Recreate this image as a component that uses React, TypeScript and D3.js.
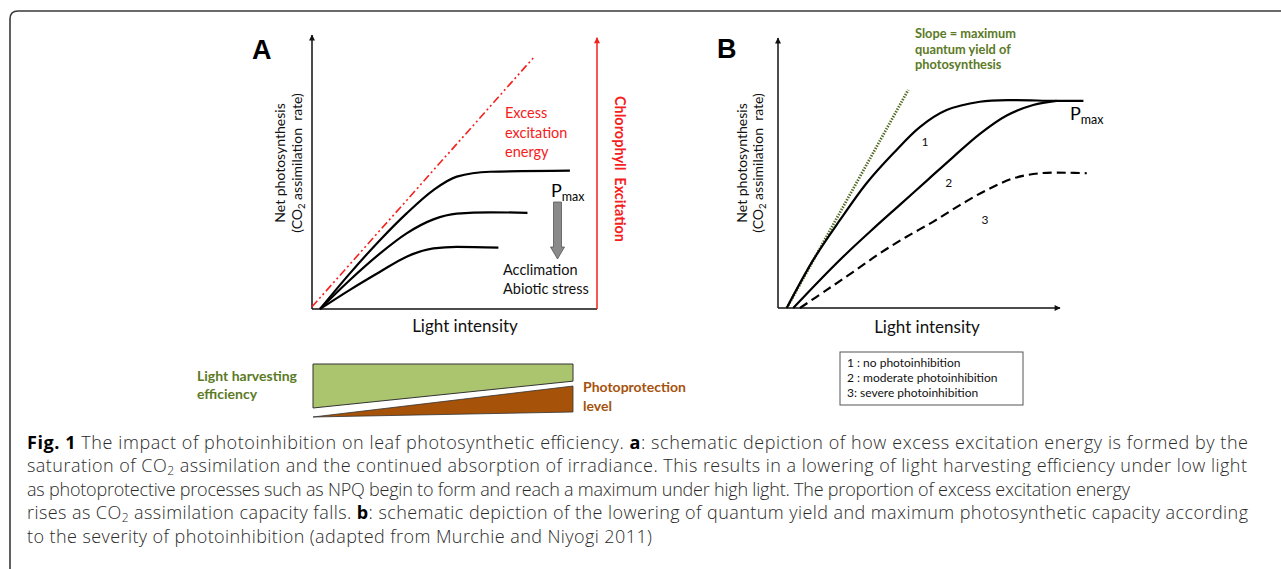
import React, { useEffect, useRef } from 'react';
import * as d3 from 'd3';

type Pt = [number, number];

// Panel A - schematic light response (light intensity, net photosynthesis), arbitrary units 0-100
const excessLineA: Pt[] = [[0, 0.8], [78.2, 92.3]];
const curveHighA: Pt[] = [[2.8, 0], [13.3, 13], [23.9, 25.2], [33.2, 34.9], [42.6, 43.4], [50.8, 48.3], [62.5, 50.1], [90.5, 50.5]];
const curveMidA: Pt[] = [[2.8, 0], [13.3, 10.6], [23.9, 20.3], [33.2, 27.6], [42.6, 32.7], [50.8, 34.8], [62.5, 35.3], [75.6, 35.1]];
const curveLowA: Pt[] = [[2.8, 0], [13.3, 7], [23.9, 13.6], [33.2, 19.1], [42.6, 22.1], [50.8, 22.7], [65.4, 22.4]];

// wedges below panel A (relative thickness at low / high light)
const harvestEfficiency: Pt[] = [[0, 100], [100, 39]];
const photoprotection: Pt[] = [[0, 0], [100, 59]];

// Panel B - photoinhibition severity
const slopeLineB: Pt[] = [[3.1, 0], [46.2, 80.8]];
const curveNoneB: Pt[] = [[3.1, 0], [12.5, 17.8], [22, 32.6], [31.4, 46.2], [40.9, 57.3], [50.4, 67.1], [59.8, 73.3], [71.6, 76.4], [83.4, 77], [97.6, 76.7], [108.3, 76.7]];
const curveModerateB: Pt[] = [[5.4, 0], [14.9, 10.4], [24.4, 20.3], [33.8, 29.4], [43.3, 38.3], [52.7, 47.1], [62.2, 56.0], [71.6, 64.5], [81.1, 71.3], [90.5, 75.2], [98.8, 76.7]];
const curveSevereB: Pt[] = [[7.8, 0], [17.3, 6.7], [26.7, 13.4], [36.2, 20.3], [45.6, 26.4], [55.1, 32.0], [64.5, 38.1], [74.0, 43.7], [83.4, 48.0], [92.9, 49.9], [102.4, 50.1], [109.5, 49.9]];
const curveLabelsB = [
  { label: '1', x: 52.1, y: 61.6 },
  { label: '2', x: 60.5, y: 46.3 },
  { label: '3', x: 73.4, y: 32.6 },
];
const legendItems = ['1 : no photoinhibition', '2 : moderate photoinhibition', '3: severe photoinhibition'];

const captionLines = [
  [{ t: 'Fig. 1', b: true }, { t: ' The impact of photoinhibition on leaf photosynthetic efficiency. ' }, { t: 'a', b: true }, { t: ': schematic depiction of how excess excitation energy is formed by the' }],
  [{ t: 'saturation of CO' }, { t: '2', sub: true }, { t: ' assimilation and the continued absorption of irradiance. This results in a lowering of light harvesting efficiency under low light' }],
  [{ t: 'as photoprotective processes such as NPQ begin to form and reach a maximum under high light. The proportion of excess excitation energy' }],
  [{ t: 'rises as CO' }, { t: '2', sub: true }, { t: ' assimilation capacity falls. ' }, { t: 'b', b: true }, { t: ': schematic depiction of the lowering of quantum yield and maximum photosynthetic capacity according' }],
  [{ t: 'to the severity of photoinhibition (adapted from Murchie and Niyogi 2011)' }],
];
const captionWidths = [1221, 1220, 1103, 1221, 625];

const FONT = 'Lato, "Open Sans", sans-serif';
const CAP_FONT = '"Open Sans", sans-serif';
const RED = '#f5201c';
const OLIVE = '#5b7a26';
const BROWN = '#a6520c';

export default function App() {
  const ref = useRef<SVGSVGElement>(null);

  useEffect(() => {
    const svg = d3.select(ref.current);
    svg.selectAll('*').remove();

    const defs = svg.append('defs');
    const mk = (id: string, color: string) =>
      defs.append('marker').attr('id', id).attr('viewBox', '0 0 10 10').attr('refX', 9).attr('refY', 5)
        .attr('markerWidth', 7).attr('markerHeight', 6).attr('markerUnits', 'userSpaceOnUse').attr('orient', 'auto')
        .append('path').attr('d', 'M0,0 L10,5 L0,10 Z').attr('fill', color);
    mk('arrK', '#111');
    mk('arrR', RED);

    // outer frame with rounded corner
    svg.append('path').attr('d', 'M10,580 L10,19 Q10,11 18,11 L1290,11')
      .attr('fill', 'none').attr('stroke', '#3a3a3a').attr('stroke-width', 1.6);

    const line = (x: d3.ScaleLinear<number, number>, y: d3.ScaleLinear<number, number>, curve: d3.CurveFactory = d3.curveMonotoneX) =>
      d3.line<Pt>().x(d => x(d[0])).y(d => y(d[1])).curve(curve);

    // ---------- Panel A ----------
    const xA = d3.scaleLinear().domain([0, 100]).range([312, 597]);
    const yA = d3.scaleLinear().domain([0, 100]).range([309, 35]);
    const gA = svg.append('g');

    gA.append('line').attr('x1', xA(0)).attr('x2', xA(100)).attr('y1', yA(0)).attr('y2', yA(0)).attr('stroke', '#111').attr('stroke-width', 1.5);
    gA.append('line').attr('x1', xA(0)).attr('x2', xA(0)).attr('y1', yA(0)).attr('y2', yA(100)).attr('stroke', '#111').attr('stroke-width', 1.5).attr('marker-end', 'url(#arrK)');
    gA.append('line').attr('x1', xA(100)).attr('x2', xA(100)).attr('y1', yA(0)).attr('y2', yA(99)).attr('stroke', RED).attr('stroke-width', 1.5).attr('marker-end', 'url(#arrR)');

    gA.append('path').attr('d', d3.line<Pt>().x(d => xA(d[0])).y(d => yA(d[1]))(excessLineA))
      .attr('fill', 'none').attr('stroke', RED).attr('stroke-width', 1.6).attr('stroke-dasharray', '8 3 2 3 2 3');

    [curveHighA, curveMidA, curveLowA].forEach(c => {
      gA.append('path').attr('d', line(xA, yA)(c)).attr('fill', 'none').attr('stroke', '#000').attr('stroke-width', 2.2);
    });

    gA.append('text').attr('x', 252).attr('y', 59).attr('font-family', 'Arial, "Liberation Sans", sans-serif').attr('font-weight', 'bold').attr('font-size', 27).text('A');

    const ex = gA.append('text').attr('font-family', FONT).attr('font-size', 14.5).attr('fill', RED);
    ['Excess', 'excitation', 'energy'].forEach((t, i) => ex.append('tspan').attr('x', 505).attr('y', 118 + i * 19.5).text(t));

    const pA = gA.append('text').attr('x', 551).attr('y', 197).attr('font-family', FONT).attr('font-size', 18);
    pA.append('tspan').text('P');
    pA.append('tspan').attr('font-size', 12.5).attr('dy', 4).text('max');

    // grey arrow
    const ax = 557.5;
    gA.append('path').attr('d', `M${ax - 4},202 L${ax + 4},202 L${ax + 4},247 L${ax + 7},247 L${ax},259 L${ax - 7},247 L${ax - 4},247 Z`)
      .attr('fill', '#8a8a8a').attr('stroke', '#555').attr('stroke-width', 0.8);

    const acc = gA.append('text').attr('font-family', FONT).attr('font-size', 14.5).attr('fill', '#111');
    ['Acclimation', 'Abiotic stress'].forEach((t, i) => acc.append('tspan').attr('x', 503).attr('y', 275 + i * 18.5).text(t));

    gA.append('text').attr('transform', 'translate(615,169) rotate(90)').attr('text-anchor', 'middle')
      .attr('font-family', FONT).attr('font-weight', 'bold').attr('font-size', 14.5).attr('fill', RED)
      .attr('xml:space', 'preserve').text('Chlorophyll  Excitation');

    const yLabel = (g: d3.Selection<SVGGElement, unknown, null, undefined>, x1: number, x2: number, cy: number) => {
      g.append('text').attr('transform', `translate(${x1},${cy}) rotate(-90)`).attr('text-anchor', 'middle')
        .attr('font-family', FONT).attr('font-size', 14).attr('fill', '#111').text('Net photosynthesis');
      const t = g.append('text').attr('transform', `translate(${x2},${cy}) rotate(-90)`).attr('text-anchor', 'middle')
        .attr('font-family', FONT).attr('font-size', 14).attr('fill', '#111').attr('xml:space', 'preserve');
      t.append('tspan').text('(CO');
      t.append('tspan').attr('font-size', 9.5).attr('dy', 3).text('2');
      t.append('tspan').attr('dy', -3).text(' assimilation  rate)');
    };
    yLabel(gA, 285, 302, 163);

    gA.append('text').attr('x', 465).attr('y', 332).attr('text-anchor', 'middle').attr('font-family', FONT).attr('font-size', 17).attr('fill', '#111').text('Light intensity');

    // wedges
    const xW = d3.scaleLinear().domain([0, 100]).range([313, 573]);
    const tW = d3.scaleLinear().domain([0, 100]).range([0, 44]);
    const topW = 364;
    gA.append('path').attr('d', d3.area<Pt>().x(d => xW(d[0])).y0(topW).y1(d => topW + tW(d[1]))(harvestEfficiency) + 'Z')
      .attr('fill', '#abc46e').attr('stroke', '#333').attr('stroke-width', 1);
    const baseW = d3.scaleLinear().domain([0, 100]).range([417, 412]);
    gA.append('path').attr('d', d3.area<Pt>().x(d => xW(d[0])).y0(d => baseW(d[0])).y1(d => baseW(d[0]) - tW(d[1]))(photoprotection) + 'Z')
      .attr('fill', '#a65208').attr('stroke', '#333').attr('stroke-width', 0.8);

    const lh = gA.append('text').attr('font-family', FONT).attr('font-weight', 'bold').attr('font-size', 14).attr('fill', OLIVE);
    ['Light harvesting', 'efficiency'].forEach((t, i) => lh.append('tspan').attr('x', 197).attr('y', 381 + i * 18).text(t));
    const pp = gA.append('text').attr('font-family', FONT).attr('font-weight', 'bold').attr('font-size', 14).attr('fill', BROWN);
    ['Photoprotection', 'level'].forEach((t, i) => pp.append('tspan').attr('x', 583).attr('y', 392 + i * 18.5).text(t));

    // ---------- Panel B ----------
    const xB = d3.scaleLinear().domain([0, 100]).range([778, 1060]);
    const yB = d3.scaleLinear().domain([0, 100]).range([308, 38]);
    const gB = svg.append('g');

    gB.append('line').attr('x1', xB(0)).attr('x2', xB(100)).attr('y1', yB(0)).attr('y2', yB(0)).attr('stroke', '#111').attr('stroke-width', 1.5).attr('marker-end', 'url(#arrK)');
    gB.append('line').attr('x1', xB(0)).attr('x2', xB(0)).attr('y1', yB(0)).attr('y2', yB(100)).attr('stroke', '#111').attr('stroke-width', 1.5).attr('marker-end', 'url(#arrK)');

    gB.append('path').attr('d', d3.line<Pt>().x(d => xB(d[0])).y(d => yB(d[1]))(slopeLineB))
      .attr('fill', 'none').attr('stroke', '#4f6b22').attr('stroke-width', 2.8).attr('stroke-dasharray', '1.4 1.4');

    const smooth = d3.curveCatmullRom.alpha(0.5);
    gB.append('path').attr('d', line(xB, yB, smooth)(curveNoneB)).attr('fill', 'none').attr('stroke', '#000').attr('stroke-width', 2.2);
    gB.append('path').attr('d', line(xB, yB, smooth)(curveModerateB)).attr('fill', 'none').attr('stroke', '#000').attr('stroke-width', 2.2);
    gB.append('path').attr('d', line(xB, yB, smooth)(curveSevereB)).attr('fill', 'none').attr('stroke', '#000').attr('stroke-width', 2.2).attr('stroke-dasharray', '9 5');

    gB.selectAll('text.cl').data(curveLabelsB).enter().append('text').attr('class', 'cl')
      .attr('x', d => xB(d.x)).attr('y', d => yB(d.y) + 4).attr('text-anchor', 'middle')
      .attr('font-family', FONT).attr('font-size', 12).attr('fill', '#111').text(d => d.label);

    gB.append('text').attr('x', 717).attr('y', 58).attr('font-family', 'Arial, "Liberation Sans", sans-serif').attr('font-weight', 'bold').attr('font-size', 27).text('B');

    const sl = gB.append('text').attr('font-family', FONT).attr('font-weight', 'bold').attr('font-size', 12.8).attr('fill', OLIVE);
    ['Slope = maximum', 'quantum yield of', 'photosynthesis'].forEach((t, i) => sl.append('tspan').attr('x', 915).attr('y', 38 + i * 15.5).text(t));

    const pB = gB.append('text').attr('x', 1070).attr('y', 120).attr('font-family', FONT).attr('font-size', 18);
    pB.append('tspan').text('P');
    pB.append('tspan').attr('font-size', 12.5).attr('dy', 4).text('max');

    yLabel(gB, 747, 763, 163);

    gB.append('text').attr('x', 927).attr('y', 333).attr('text-anchor', 'middle').attr('font-family', FONT).attr('font-size', 17).attr('fill', '#111').text('Light intensity');

    // legend
    gB.append('rect').attr('x', 840).attr('y', 352).attr('width', 183).attr('height', 53).attr('fill', '#fff').attr('stroke', '#555').attr('stroke-width', 1);
    gB.selectAll('text.lg').data(legendItems).enter().append('text').attr('class', 'lg')
      .attr('x', 847).attr('y', (d, i) => 367 + i * 15).attr('font-family', FONT).attr('font-size', 12).attr('fill', '#111').text(d => d);

    // ---------- caption ----------
    const cap = svg.append('g');
    captionLines.forEach((parts, i) => {
      const t = cap.append('text').attr('x', 27).attr('y', 449 + i * 23.4).attr('font-family', CAP_FONT)
        .attr('font-weight', 300).attr('font-size', 18).attr('fill', '#2a2a2a')
        .attr('textLength', captionWidths[i]).attr('lengthAdjust', 'spacing');
      parts.forEach((p: any) => {
        const s = t.append('tspan').text(p.t);
        if (p.b) s.attr('font-weight', 700).attr('fill', '#000');
        if (p.sub) s.attr('font-size', 12).attr('baseline-shift', '-3');
      });
    });
  }, []);

  return <svg ref={ref} width={1281} height={569} style={{ position: 'absolute', left: 0, top: 0, background: '#fff' }} />;
}
